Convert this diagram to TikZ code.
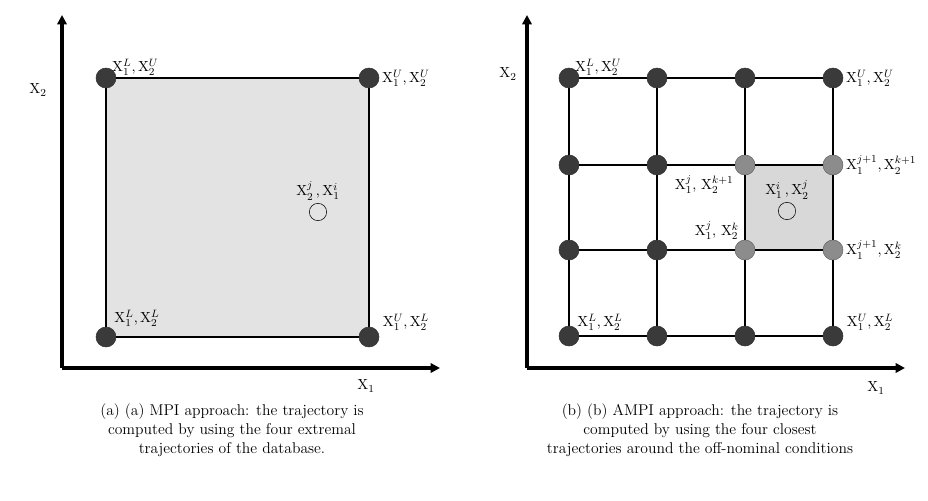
\documentclass[tikz,border=0pt]{standalone}
\usepackage{amsmath,amssymb}
\usepackage{tikz}
\usetikzlibrary{arrows,arrows.meta,positioning}

\definecolor{dotdark}{HTML}{3A3A3A}
\definecolor{dotmid}{HTML}{8C8C8C}
\definecolor{panelgrey}{HTML}{E3E3E3}
\definecolor{cellgrey}{HTML}{D8D8D8}

\begin{document}
\begin{tikzpicture}[x=0.75pt,y=-0.75pt,
  axis/.style={line width=3pt,-{Triangle[length=7pt,width=7pt]}},
  grid/.style={line width=1.4pt},
  dot/.style={circle,fill=dotdark,draw=black!80,minimum size=15pt,inner sep=0pt},
  middot/.style={circle,fill=dotmid,draw=black!60,minimum size=15pt,inner sep=0pt},
  probe/.style={circle,draw=black,minimum size=13pt,inner sep=0pt},
  lbl/.style={font=\fontsize{11}{13}\selectfont,inner sep=1pt},
  captext/.style={align=center,font=\fontsize{11.7}{14.25}\selectfont}]
  \useasboundingbox (0,0) rectangle (928,500);

  % (a) MPI
  \coordinate (aO) at (62,368);
  \coordinate (aX) at (440,368);
  \coordinate (aY) at (62,15);
  \fill[panelgrey] (106,78) rectangle (369,337);
  \node[dot] (aLU) at (106,78)  {};
  \node[dot] (aUU) at (369,78)  {};
  \node[dot] (aLL) at (106,337) {};
  \node[dot] (aUL) at (369,337) {};
  \draw[grid] (aLU) -- (aUU) -- (aUL) -- (aLL) -- (aLU);
  \draw[axis] (aO) -- (aX);
  \draw[axis] (aO) -- (aY);
  \node[lbl] at (38,90)  {$\mathrm{X}_2$};
  \node[lbl] at (366,386) {$\mathrm{X}_1$};
  \node[lbl,above right=-5pt and -2pt of aLU] {$\mathrm{X}^{L}_{1},\mathrm{X}^{U}_{2}$};
  \node[lbl,right=1pt of aUU] {$\mathrm{X}^{U}_{1},\mathrm{X}^{U}_{2}$};
  \node[lbl] at (137,318) {$\mathrm{X}^{L}_{1},\mathrm{X}^{L}_{2}$};
  \node[lbl] at (406,322) {$\mathrm{X}^{U}_{1},\mathrm{X}^{L}_{2}$};
  \node[probe] (aP) at (318,212) {};
  \node[lbl,above=1pt of aP] {$\mathrm{X}^{j}_{2}\,,\mathrm{X}^{i}_{1}$};
  \node[captext] at (232,430) {(a) (a) MPI approach: the trajectory is\\
    computed by using the four extremal\\ trajectories of the database.};

  % (b) AMPI
  \coordinate (bO) at (527,368);
  \coordinate (bX) at (905,368);
  \coordinate (bY) at (527,15);
  \fill[cellgrey] (745,165) rectangle (833,250);
  \node[dot]    (b11) at (569,78)  {};
  \node[dot]    (b21) at (657,78)  {};
  \node[dot]    (b31) at (745,78)  {};
  \node[dot]    (b41) at (833,78)  {};
  \node[dot]    (b12) at (569,165) {};
  \node[dot]    (b22) at (657,165) {};
  \node[middot] (b32) at (745,165) {};
  \node[middot] (b42) at (833,165) {};
  \node[dot]    (b13) at (569,250) {};
  \node[dot]    (b23) at (657,250) {};
  \node[middot] (b33) at (745,250) {};
  \node[middot] (b43) at (833,250) {};
  \node[dot]    (b14) at (569,336) {};
  \node[dot]    (b24) at (657,336) {};
  \node[dot]    (b34) at (745,336) {};
  \node[dot]    (b44) at (833,336) {};
  \draw[grid] (b11) -- (b21) -- (b31) -- (b41);
  \draw[grid] (b12) -- (b22) -- (b32) -- (b42);
  \draw[grid] (b13) -- (b23) -- (b33) -- (b43);
  \draw[grid] (b14) -- (b24) -- (b34) -- (b44);
  \draw[grid] (b11) -- (b12) -- (b13) -- (b14);
  \draw[grid] (b21) -- (b22) -- (b23) -- (b24);
  \draw[grid] (b31) -- (b32) -- (b33) -- (b34);
  \draw[grid] (b41) -- (b42) -- (b43) -- (b44);
  \draw[axis] (bO) -- (bX);
  \draw[axis] (bO) -- (bY);
  \node[lbl] at (508,74)  {$\mathrm{X}_2$};
  \node[lbl] at (876,388) {$\mathrm{X}_1$};
  \node[lbl,above right=-5pt and -2pt of b11] {$\mathrm{X}^{L}_{1},\mathrm{X}^{U}_{2}$};
  \node[lbl,right=1pt of b41] {$\mathrm{X}^{U}_{1},\mathrm{X}^{U}_{2}$};
  \node[lbl,right=1pt of b42] {$\mathrm{X}^{j+1}_{1},\mathrm{X}^{k+1}_{2}$};
  \node[lbl,right=1pt of b43] {$\mathrm{X}^{j+1}_{1},\mathrm{X}^{k}_{2}$};
  \node[lbl,below left=1pt and 2pt of b32] {$\mathrm{X}^{j}_{1},\,\mathrm{X}^{k+1}_{2}$};
  \node[lbl,above left=1pt and -2pt of b33] {$\mathrm{X}^{j}_{1},\,\mathrm{X}^{k}_{2}$};
  \node[lbl] at (600,322) {$\mathrm{X}^{L}_{1},\mathrm{X}^{L}_{2}$};
  \node[lbl] at (870,322) {$\mathrm{X}^{U}_{1},\mathrm{X}^{L}_{2}$};
  \node[probe] (bP) at (787,211) {};
  \node[lbl,above=1pt of bP] {$\mathrm{X}^{i}_{1}\,,\mathrm{X}^{j}_{2}$};
  \node[captext] at (700,430) {(b) (b) AMPI approach: the trajectory is\\
    computed by using the four closest\\ trajectories around the off-nominal conditions};
\end{tikzpicture}
\end{document}
